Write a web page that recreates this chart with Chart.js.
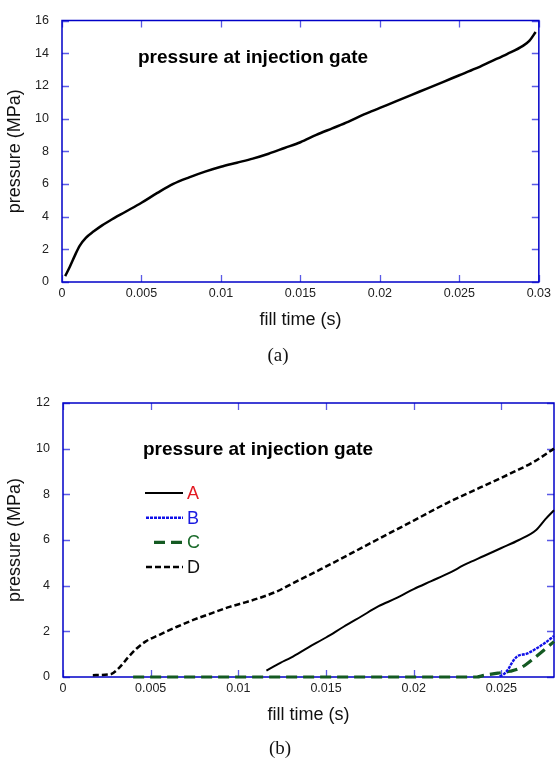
<!DOCTYPE html>
<html lang="en">
<head>
<meta charset="utf-8">
<title>pressure at injection gate</title>
<script src="https://cdn.jsdelivr.net/npm/chart.js@4.4.1/dist/chart.umd.min.js"></script>
<style>
  html, body { margin: 0; padding: 0; background: #fff; }
  body { width: 555px; height: 760px; position: relative; overflow: hidden; }
  canvas { position: absolute; left: 0; }
  #chartA { top: 0; }
  #chartB { top: 380px; }
  .cap { position: absolute; font-family: "Liberation Serif", "Times New Roman", serif; font-size: 19px; color: #111; transform: translate(-50%, -50%); }
</style>
</head>
<body>
<canvas id="chartA" width="555" height="345"></canvas>
<div class="cap" style="left:278px; top:355px;">(a)</div>
<canvas id="chartB" width="555" height="355"></canvas>
<div class="cap" style="left:280px; top:748px;">(b)</div>

<script>
// ---- data ----
// (a) single run
const timeTop = [0.0002, 0.0005, 0.0008, 0.0011, 0.0015, 0.002, 0.0025, 0.003, 0.004, 0.005, 0.006, 0.007, 0.008, 0.009, 0.010, 0.011, 0.012, 0.013, 0.014, 0.015, 0.016, 0.017, 0.018, 0.019, 0.020, 0.021, 0.022, 0.023, 0.024, 0.025, 0.026, 0.027, 0.028, 0.029, 0.0294, 0.0298];
const presTop = [0.36, 0.95, 1.6, 2.2, 2.7, 3.1, 3.45, 3.75, 4.3, 4.85, 5.45, 6.0, 6.4, 6.75, 7.05, 7.3, 7.55, 7.85, 8.2, 8.55, 9.0, 9.4, 9.8, 10.25, 10.65, 11.05, 11.45, 11.85, 12.25, 12.65, 13.05, 13.5, 13.95, 14.45, 14.75, 15.3];

// (b) four cases
const timeA = [0.0116, 0.0120, 0.0124, 0.013, 0.014, 0.015, 0.016, 0.017, 0.018, 0.019, 0.020, 0.021, 0.022, 0.023, 0.024, 0.025, 0.026, 0.027, 0.0275, 0.028];
const presA = [0.28, 0.45, 0.62, 0.85, 1.3, 1.73, 2.2, 2.65, 3.1, 3.45, 3.85, 4.2, 4.55, 4.95, 5.3, 5.65, 6.0, 6.45, 6.9, 7.3];
const timeB = [0.0249, 0.0251, 0.0254, 0.0256, 0.0259, 0.02645, 0.027, 0.0275, 0.028];
const presB = [0.03, 0.1, 0.35, 0.62, 0.9, 1.02, 1.25, 1.5, 1.8];
const timeC = [0.004, 0.0236, 0.024, 0.0248, 0.0255, 0.0261, 0.0269, 0.028];
const presC = [0, 0, 0.07, 0.17, 0.25, 0.4, 0.85, 1.55];
const timeD = [0.0017, 0.0027, 0.0032, 0.0037, 0.0042, 0.0047, 0.0055, 0.0065, 0.0075, 0.0085, 0.0095, 0.0104, 0.0112, 0.0122, 0.0131, 0.0147, 0.0164, 0.0181, 0.020, 0.0219, 0.0238, 0.0257, 0.0268, 0.028];
const presD = [0.08, 0.12, 0.4, 0.85, 1.25, 1.55, 1.85, 2.2, 2.52, 2.8, 3.07, 3.27, 3.46, 3.75, 4.1, 4.72, 5.4, 6.09, 6.85, 7.62, 8.3, 8.98, 9.4, 10.0];

const legendLabels = ['A', 'B', 'C', 'D'];
const legendColors = ['#e31b23', '#1a1ae0', '#1b6b2b', '#111111'];

const FONT = '"Liberation Sans", Arial, sans-serif';

function pts(xs, ys) {
  return xs.map((t, i) => ({ x: t, y: ys[i] }));
}

// frame, inward ticks on all four sides, inner title and legend
const framePlugin = {
  id: 'frame',
  beforeDatasetsDraw(chart, args, opts) {
    const { ctx, chartArea: a, scales: { x, y } } = chart;
    ctx.save();
    ctx.strokeStyle = '#5a5ae6';
    ctx.lineWidth = 1.3;
    ctx.beginPath();
    x.ticks.forEach(t => {
      const px = Math.round(x.getPixelForValue(t.value)) + 0.5;
      ctx.moveTo(px, a.bottom); ctx.lineTo(px, a.bottom - 7);
      ctx.moveTo(px, a.top); ctx.lineTo(px, a.top + 7);
    });
    y.ticks.forEach(t => {
      const py = Math.round(y.getPixelForValue(t.value)) + 0.5;
      ctx.moveTo(a.left, py); ctx.lineTo(a.left + 7, py);
      ctx.moveTo(a.right, py); ctx.lineTo(a.right - 7, py);
    });
    ctx.stroke();
    ctx.strokeStyle = '#0000c8';
    ctx.lineWidth = 1.5;
    ctx.strokeRect(a.left, a.top, a.width, a.height);

    ctx.font = 'bold 19px ' + FONT;
    ctx.fillStyle = '#000';
    ctx.textBaseline = 'middle';
    ctx.textAlign = 'left';
    ctx.fillText(opts.title, opts.titleX, opts.titleY);
    ctx.restore();
  },
  afterDatasetsDraw(chart, args, opts) {
    if (!opts.legend) return;
    const { ctx } = chart;
    const L = opts.legend;
    ctx.save();
    chart.data.datasets.forEach((ds, i) => {
      const yy = L.y + i * L.step;
      ctx.strokeStyle = ds.borderColor;
      ctx.lineWidth = ds.borderWidth;
      ctx.setLineDash(ds.borderDash || []);
      ctx.beginPath();
      ctx.moveTo(L.x0[i], yy);
      ctx.lineTo(L.x1, yy);
      ctx.stroke();
      ctx.setLineDash([]);
      ctx.font = '18px ' + FONT;
      ctx.fillStyle = legendColors[i];
      ctx.textBaseline = 'middle';
      ctx.fillText(legendLabels[i], L.textX, yy + 1);
    });
    ctx.restore();
  }
};

function fmt(v) {
  return String(Number(v.toFixed(4)));
}

function axes(xMax, yMax, yStep, yWidth, xHeight, xTitlePad) {
  return {
    x: {
      type: 'linear', min: 0, max: xMax,
      grid: { display: false, drawTicks: false },
      border: { display: false },
      ticks: { stepSize: 0.005, includeBounds: false, padding: 4, color: '#222', font: { family: FONT, size: 12.5 }, callback: fmt, maxRotation: 0 },
      title: { display: true, text: 'fill time (s)', color: '#111', font: { family: FONT, size: 18 }, padding: { top: 0, bottom: xTitlePad } },
      afterFit(s) { s.height = xHeight; }
    },
    y: {
      type: 'linear', min: 0, max: yMax,
      grid: { display: false, drawTicks: false },
      border: { display: false },
      ticks: { stepSize: yStep, padding: 13, color: '#222', font: { family: FONT, size: 12.5 } },
      title: { display: true, text: 'pressure (MPa)', color: '#111', font: { family: FONT, size: 18 }, padding: { top: 4, bottom: 0 } },
      afterFit(s) { s.width = yWidth; }
    }
  };
}

// (a)
new Chart(document.getElementById('chartA'), {
  type: 'line',
  data: {
    datasets: [{
      data: pts(timeTop, presTop),
      borderColor: '#000', borderWidth: 2.5, pointRadius: 0,
      cubicInterpolationMode: 'monotone', clip: false
    }]
  },
  options: {
    responsive: false, animation: false, devicePixelRatio: 1,
    layout: { padding: { top: 13, right: 13, left: 0, bottom: 0 } },
    scales: axes(0.03, 16, 2, 62, 63, 14),
    plugins: {
      legend: { display: false }, tooltip: { enabled: false },
      frame: { title: 'pressure at injection gate', titleX: 138, titleY: 58 }
    }
  },
  plugins: [framePlugin]
});

// (b)
new Chart(document.getElementById('chartB'), {
  type: 'line',
  data: {
    datasets: [
      { data: pts(timeA, presA), borderColor: '#000', borderWidth: 2, borderDash: [] },
      { data: pts(timeB, presB), borderColor: '#1010e8', borderWidth: 2.4, borderDash: [3, 1] },
      { data: pts(timeC, presC), borderColor: '#145a22', borderWidth: 3.2, borderDash: [11, 6] },
      { data: pts(timeD, presD), borderColor: '#000', borderWidth: 2.5, borderDash: [6, 3] }
    ].map(d => Object.assign(d, { pointRadius: 0, cubicInterpolationMode: 'monotone', clip: false }))
  },
  options: {
    responsive: false, animation: false, devicePixelRatio: 1,
    layout: { padding: { top: 23, right: 1, left: 0, bottom: 0 } },
    scales: axes(0.028, 12, 2, 63, 58, 9),
    plugins: {
      legend: { display: false }, tooltip: { enabled: false },
      frame: {
        title: 'pressure at injection gate', titleX: 143, titleY: 70,
        legend: { x0: [145, 146, 154, 146], x1: 183, textX: 187, y: 113, step: 24.7 }
      }
    }
  },
  plugins: [framePlugin]
});
</script>
</body>
</html>
